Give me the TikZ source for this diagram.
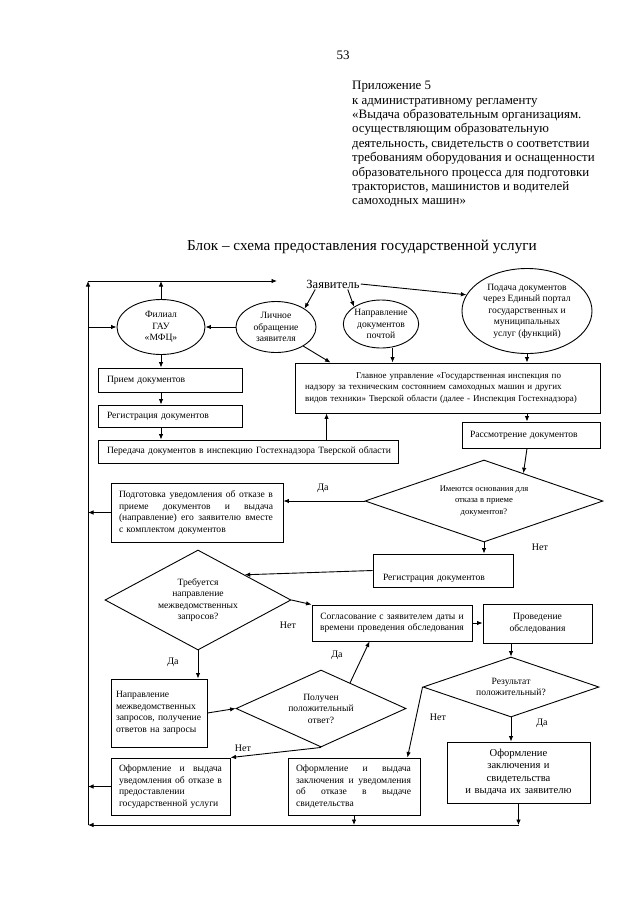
\documentclass[tikz,border=0pt]{standalone}
\usepackage{fontspec}
\setmainfont{Liberation Serif}
\usetikzlibrary{shapes.geometric,arrows.meta,calc}
\newcommand{\fs}{\fontsize{9.6}{11.5}\selectfont}
\newcommand{\jline}[2]{\leavevmode\hbox to #1{\spaceskip=0pt\xspaceskip=0pt #2}}
\tikzstyle{blk}=[draw,rectangle,line width=0.9pt,inner ysep=2pt,font=\fs,align=left]
\tikzstyle{elli}=[draw,ellipse,line width=0.9pt,inner sep=0pt,font=\fs,align=center]
\tikzstyle{rhomb}=[draw,diamond,line width=0.9pt,inner sep=0pt,font=\fs,align=center]
\tikzstyle{lbl}=[inner sep=0pt,font=\fontsize{10}{12}\selectfont]
\tikzstyle{arr}=[-{Latex[length=5.5pt,width=4.5pt]},line width=0.9pt]
\begin{document}
\begin{tikzpicture}[x=1pt,y=-1pt]
		\path[fill=white,use as bounding box] (0,0) rectangle (640,903);
		% % % % % % % % % % % % % % % % % % % % % % % % % % % % %
		\node [lbl, font=\fontsize{13}{15}\selectfont] (pagenum) at (343,55) {53};
		\node [lbl, anchor=north west, align=left, font=\fontsize{12.9}{14.4}\selectfont] (prilozh) at (352,81) {Приложение 5\\к административному регламенту\\«Выдача образовательным организациям.\\осуществляющим образовательную\\деятельность, свидетельств о соответствии\\требованиям оборудования и оснащенности\\образовательного процесса для подготовки\\трактористов, машинистов и водителей\\самоходных машин»};
		\node [lbl, font=\fontsize{15.2}{17}\selectfont] (title) at (362,247) {Блок – схема предоставления государственной услуги};
		% % % % % % % % % % % % % % % % % % % % % % % % % % % % %
		%*********************
		\node [lbl, font=\fontsize{12.5}{14}\selectfont, inner sep=1pt] (zayav) at (333,284) {Заявитель};
		\node [elli, minimum width=88pt, minimum height=55pt] (filial) at (161,327) {Филиал\\ГАУ\\«МФЦ»};
		\node [elli, minimum width=80pt, minimum height=51pt] (lichnoe) at (276,327) {Личное\\обращение\\заявителя};
		\node [elli, minimum width=68pt, minimum height=48pt] (pochta) at (381,324) {Направление\\документов\\почтой};
		\node [elli, minimum width=130pt, minimum height=85pt] (portal) at (527,311) {Подача документов\\через Единый портал\\государственных и\\муниципальных\\услуг (функций)};
		%*********************
		\node [blk, minimum width=305pt, minimum height=50pt, text width=295pt, inner xsep=5pt, font=\fontsize{9}{11.5}\selectfont] (glavnoe) at (447.5,388) {\hspace*{56pt}Главное управление «Государственная инспекция по\\\hspace*{5pt}надзору за техническим состоянием самоходных машин и других\\\hspace*{5pt}видов техники» Тверской области (далее - Инспекция Гостехнадзора)};
		\node [blk, minimum width=144pt, minimum height=24pt, text width=126pt, inner xsep=9pt] (priem) at (170,380) {Прием документов};
		\node [blk, minimum width=144pt, minimum height=22pt, text width=126pt, inner xsep=9pt] (reg1) at (170,416) {Регистрация документов};
		\node [blk, minimum width=300pt, minimum height=23pt, text width=288pt, inner xsep=6pt] (peredacha) at (248,451.5) {\hspace*{3pt}Передача документов в инспекцию Гостехнадзора Тверской области};
		\node [blk, minimum width=138pt, minimum height=26pt, text width=122pt, inner xsep=8pt] (rassm) at (531,435) {Рассмотрение документов};
		%*********************
		\node [rhomb, minimum width=238pt, minimum height=82pt, aspect=2.9, font=\fontsize{8.6}{11.5}\selectfont] (osnov) at (484,501) {Имеются основания для\\отказа в приеме\\документов?};
		\node [blk, minimum width=172pt, minimum height=59pt, text width=156pt, inner xsep=8pt] (podgot) at (197,512.5) {\jline{154pt}{Подготовка уведомления об отказе в}\\\jline{154pt}{приеме документов и выдача}\\\jline{154pt}{(направление) его заявителю вместе}\\с комплектом документов};
		\node [blk, minimum width=140pt, text width=120pt, inner xsep=10pt, inner ysep=3pt, text height=23pt, text depth=4pt] (reg2) at (443,570.5) {Регистрация документов};
		%*********************
		\node [rhomb, minimum width=186pt, minimum height=100pt, aspect=1.86] (treb) at (198,600) {Требуется\\направление\\межведомственных\\запросов?};
		\node [blk, minimum width=160pt, minimum height=36pt, text width=150pt, inner xsep=5pt, align=center] (soglas) at (392,623) {Согласование с заявителем даты и\\времени проведения обследования};
		\node [blk, minimum width=109pt, minimum height=39pt, text width=99pt, inner xsep=5pt, align=center] (proved) at (537.5,623.5) {Проведение\\обследования};
		\node [rhomb, minimum width=176pt, minimum height=60pt, aspect=2.93] (rezult) at (511,687) {Результат\\положительный?};
		%*********************
		\node [blk, minimum width=96pt, minimum height=68pt, text width=86pt, inner xsep=5pt] (napr) at (159,713) {Направление\\межведомственных\\запросов, получение\\ответов на запросы};
		\node [rhomb, minimum width=170pt, minimum height=77pt, aspect=2.2] (poluch) at (321,708.5) {Получен\\положительный\\ответ?};
		%*********************
		\node [blk, minimum width=119pt, minimum height=57pt, text width=103pt, inner xsep=8pt] (otkaz) at (170.5,786.5) {\jline{103pt}{Оформление и выдача}\\\jline{103pt}{уведомления об отказе в}\\предоставлении\\государственной услуги};
		\node [blk, minimum width=132pt, minimum height=57pt, text width=116pt, inner xsep=8pt] (vyd) at (354,786.5) {\jline{115pt}{Оформление и выдача}\\\jline{115pt}{заключения и уведомления}\\\jline{115pt}{об отказе в выдаче}\\свидетельства};
		\node [blk, minimum width=143pt, minimum height=61pt, text width=133pt, inner xsep=5pt, align=center, font=\fontsize{10.6}{12.4}\selectfont] (final) at (518.5,772.5) {Оформление\\заключения и\\свидетельства\\и выдача их заявителю};
		%*********************
		\node [lbl] (da1) at (323,488) {Да};
		\node [lbl] (net1) at (540,547) {Нет};
		\node [lbl] (net2) at (288,625) {Нет};
		\node [lbl] (da2) at (173,662) {Да};
		\node [lbl] (da3) at (337,655) {Да};
		\node [lbl] (net3) at (243,748) {Нет};
		\node [lbl] (net4) at (438,717) {Нет};
		\node [lbl] (da4) at (542,723) {Да};
		%*********************
		\coordinate (tl) at (88,281);
		\coordinate (bl) at (88,825);
		\coordinate (zin) at (277,281);
		\coordinate (g1) at ([xshift=32pt]glavnoe.south west);
		\coordinate (g2) at ([xshift=36pt]glavnoe.north west);
		\coordinate (g3) at ([xshift=98pt]glavnoe.north west);
		\coordinate (r1) at ($(osnov.north)!0.33!(osnov.east)$);
		\coordinate (p1) at ($(poluch.north)!0.34!(poluch.east)$);
		\coordinate (s1) at ([xshift=58pt]soglas.south west);
		\coordinate (v1) at ([xshift=-13pt]vyd.north east);
		%***************
		
		\path
		% % % % % % % % % % % % % % % % %
		%**************
		(bl) edge [arr] (tl)
		(tl) edge [arr] (zin)
		([xshift=10pt]zayav.south west) edge [arr] (lichnoe.north east)
		([xshift=-13pt]zayav.south east) edge [arr] (pochta.north west)
		(zayav.east) edge [arr] (portal.165)
		%**************
		(filial.north) edge [arr] (filial.north |- tl)
		(filial.west -| tl) edge [arr] (filial.west)
		(lichnoe.west) edge [arr] (filial.east)
		(filial.south) edge [arr] (filial.south |- priem.north)
		(filial.south |- priem.south) edge [arr] (filial.south |- reg1.north)
		(filial.south |- reg1.south) edge [arr] (filial.south |- peredacha.north)
		(g1 |- peredacha.north) edge [arr] (g1)
		%**************
		(lichnoe.-35) edge [arr] (g2)
		(g3 |- pochta.south) edge [arr] (g3)
		(portal.south) edge [arr] (portal.south |- glavnoe.north)
		(portal.south |- glavnoe.south) edge [arr] (portal.south |- rassm.north)
		([xshift=-4pt]rassm.south) edge [arr] (r1)
		%********************
		(osnov.west) edge [arr] (osnov.west -| podgot.east)
		(podgot.west) edge [arr] (podgot.west -| tl)
		(osnov.south) edge [arr] (osnov.south |- reg2.north)
		(reg2.west) edge [arr] (treb.north east)
		%********************
		(treb.east) edge [arr] (soglas.north west)
		(treb.south) edge [arr] (treb.south |- napr.north)
		(soglas.east) edge [arr] (soglas.east -| proved.west)
		(rezult.north |- proved.south) edge [arr] (rezult.north)
		(rezult.west) edge [arr] (v1)
		(rezult.south) edge [arr] (rezult.south |- final.north)
		%********************
		(napr.east) edge [arr] (poluch.west)
		(p1) edge [arr] (s1)
		(poluch.south) edge [arr] (otkaz.north east)
		(otkaz.west) edge [arr] (otkaz.west -| tl)
		%**************
		(final.south) edge [arr] (final.south |- bl)
		(vyd.south) edge [arr] (vyd.south |- bl)
		(final.south |- bl) edge [arr] (bl)
		%********************
		;
\end{tikzpicture}
\end{document}
